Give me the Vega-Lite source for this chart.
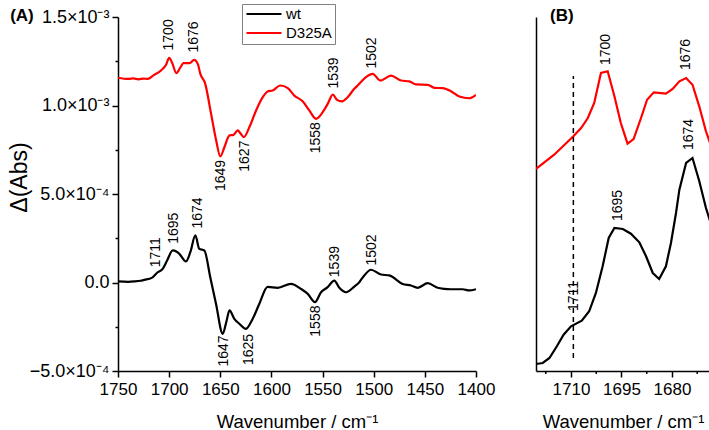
{
  "$schema": "https://vega.github.io/schema/vega-lite/v6.json",
  "padding": {"left": 8, "top": 3, "right": 0, "bottom": 0},
  "background": "white",
  "bounds": "flush",
  "spacing": 60,
  "config": {
    "view": {"stroke": null},
    "font": "Liberation Sans",
    "axis": {
      "domainColor": "black", "tickColor": "black", "labelColor": "black", "titleColor": "black",
      "domainWidth": 1.5, "tickWidth": 1.5, "grid": false,
      "labelFont": "Liberation Sans", "titleFont": "Liberation Sans",
      "labelFontSize": 17, "titleFontWeight": "normal",
      "labelFlush": false, "labelOverlap": false
    }
  },
  "resolve": {"scale": {"color": "independent"}, "legend": {"color": "independent"}},
  "datasets": {
    "specA": [
      {"wn": 1750, "abs": 1.157e-3, "sample": "D325A"},
      {"wn": 1740, "abs": 1.150e-3, "sample": "D325A"},
      {"wn": 1735, "abs": 1.153e-3, "sample": "D325A"},
      {"wn": 1730, "abs": 1.148e-3, "sample": "D325A"},
      {"wn": 1725, "abs": 1.152e-3, "sample": "D325A"},
      {"wn": 1721, "abs": 1.150e-3, "sample": "D325A"},
      {"wn": 1715, "abs": 1.172e-3, "sample": "D325A"},
      {"wn": 1708, "abs": 1.198e-3, "sample": "D325A"},
      {"wn": 1703, "abs": 1.230e-3, "sample": "D325A"},
      {"wn": 1700, "abs": 1.269e-3, "sample": "D325A"},
      {"wn": 1697, "abs": 1.240e-3, "sample": "D325A"},
      {"wn": 1693, "abs": 1.183e-3, "sample": "D325A"},
      {"wn": 1689, "abs": 1.215e-3, "sample": "D325A"},
      {"wn": 1686, "abs": 1.239e-3, "sample": "D325A"},
      {"wn": 1680, "abs": 1.239e-3, "sample": "D325A"},
      {"wn": 1675.5, "abs": 1.258e-3, "sample": "D325A"},
      {"wn": 1672, "abs": 1.235e-3, "sample": "D325A"},
      {"wn": 1669.5, "abs": 1.179e-3, "sample": "D325A"},
      {"wn": 1664.7, "abs": 1.122e-3, "sample": "D325A"},
      {"wn": 1659, "abs": 0.953e-3, "sample": "D325A"},
      {"wn": 1654, "abs": 0.802e-3, "sample": "D325A"},
      {"wn": 1650, "abs": 0.712e-3, "sample": "D325A"},
      {"wn": 1646, "abs": 0.764e-3, "sample": "D325A"},
      {"wn": 1641, "abs": 0.831e-3, "sample": "D325A"},
      {"wn": 1637, "abs": 0.834e-3, "sample": "D325A"},
      {"wn": 1633, "abs": 0.859e-3, "sample": "D325A"},
      {"wn": 1630, "abs": 0.840e-3, "sample": "D325A"},
      {"wn": 1627, "abs": 0.821e-3, "sample": "D325A"},
      {"wn": 1621.6, "abs": 0.877e-3, "sample": "D325A"},
      {"wn": 1615, "abs": 0.972e-3, "sample": "D325A"},
      {"wn": 1608.5, "abs": 1.047e-3, "sample": "D325A"},
      {"wn": 1603.7, "abs": 1.079e-3, "sample": "D325A"},
      {"wn": 1598.8, "abs": 1.085e-3, "sample": "D325A"},
      {"wn": 1591.3, "abs": 1.113e-3, "sample": "D325A"},
      {"wn": 1584, "abs": 1.098e-3, "sample": "D325A"},
      {"wn": 1577.6, "abs": 1.056e-3, "sample": "D325A"},
      {"wn": 1569.5, "abs": 1.024e-3, "sample": "D325A"},
      {"wn": 1563, "abs": 0.972e-3, "sample": "D325A"},
      {"wn": 1556.4, "abs": 0.925e-3, "sample": "D325A"},
      {"wn": 1549.9, "abs": 0.962e-3, "sample": "D325A"},
      {"wn": 1545, "abs": 1.009e-3, "sample": "D325A"},
      {"wn": 1540, "abs": 1.062e-3, "sample": "D325A"},
      {"wn": 1535.9, "abs": 1.032e-3, "sample": "D325A"},
      {"wn": 1531, "abs": 1.023e-3, "sample": "D325A"},
      {"wn": 1525.5, "abs": 1.047e-3, "sample": "D325A"},
      {"wn": 1519, "abs": 1.094e-3, "sample": "D325A"},
      {"wn": 1515.7, "abs": 1.113e-3, "sample": "D325A"},
      {"wn": 1507.6, "abs": 1.160e-3, "sample": "D325A"},
      {"wn": 1501, "abs": 1.179e-3, "sample": "D325A"},
      {"wn": 1493.6, "abs": 1.141e-3, "sample": "D325A"},
      {"wn": 1483.1, "abs": 1.169e-3, "sample": "D325A"},
      {"wn": 1473.3, "abs": 1.141e-3, "sample": "D325A"},
      {"wn": 1465.2, "abs": 1.136e-3, "sample": "D325A"},
      {"wn": 1458.7, "abs": 1.119e-3, "sample": "D325A"},
      {"wn": 1447.2, "abs": 1.117e-3, "sample": "D325A"},
      {"wn": 1440.7, "abs": 1.100e-3, "sample": "D325A"},
      {"wn": 1432.6, "abs": 1.098e-3, "sample": "D325A"},
      {"wn": 1424.5, "abs": 1.081e-3, "sample": "D325A"},
      {"wn": 1416.3, "abs": 1.051e-3, "sample": "D325A"},
      {"wn": 1406.6, "abs": 1.041e-3, "sample": "D325A"},
      {"wn": 1400, "abs": 1.060e-3, "sample": "D325A"},
      {"wn": 1750, "abs": 0.006e-3, "sample": "wt"},
      {"wn": 1740, "abs": 0.004e-3, "sample": "wt"},
      {"wn": 1734, "abs": 0.006e-3, "sample": "wt"},
      {"wn": 1728, "abs": 0.010e-3, "sample": "wt"},
      {"wn": 1724.3, "abs": 0.015e-3, "sample": "wt"},
      {"wn": 1717, "abs": 0.026e-3, "sample": "wt"},
      {"wn": 1711.2, "abs": 0.058e-3, "sample": "wt"},
      {"wn": 1706.3, "abs": 0.077e-3, "sample": "wt"},
      {"wn": 1702, "abs": 0.124e-3, "sample": "wt"},
      {"wn": 1696.5, "abs": 0.181e-3, "sample": "wt"},
      {"wn": 1693, "abs": 0.175e-3, "sample": "wt"},
      {"wn": 1690, "abs": 0.162e-3, "sample": "wt"},
      {"wn": 1683.5, "abs": 0.119e-3, "sample": "wt"},
      {"wn": 1679.3, "abs": 0.171e-3, "sample": "wt"},
      {"wn": 1674.4, "abs": 0.266e-3, "sample": "wt"},
      {"wn": 1670.5, "abs": 0.190e-3, "sample": "wt"},
      {"wn": 1665.6, "abs": 0.181e-3, "sample": "wt"},
      {"wn": 1659.8, "abs": 0.030e-3, "sample": "wt"},
      {"wn": 1654.2, "abs": -0.120e-3, "sample": "wt"},
      {"wn": 1647.6, "abs": -0.290e-3, "sample": "wt"},
      {"wn": 1644, "abs": -0.220e-3, "sample": "wt"},
      {"wn": 1641, "abs": -0.158e-3, "sample": "wt"},
      {"wn": 1636.3, "abs": -0.205e-3, "sample": "wt"},
      {"wn": 1631.4, "abs": -0.233e-3, "sample": "wt"},
      {"wn": 1625, "abs": -0.262e-3, "sample": "wt"},
      {"wn": 1618.3, "abs": -0.205e-3, "sample": "wt"},
      {"wn": 1611.8, "abs": -0.120e-3, "sample": "wt"},
      {"wn": 1603.7, "abs": -0.025e-3, "sample": "wt"},
      {"wn": 1593.9, "abs": -0.030e-3, "sample": "wt"},
      {"wn": 1580.9, "abs": -0.008e-3, "sample": "wt"},
      {"wn": 1571.1, "abs": -0.036e-3, "sample": "wt"},
      {"wn": 1564.5, "abs": -0.064e-3, "sample": "wt"},
      {"wn": 1557.4, "abs": -0.111e-3, "sample": "wt"},
      {"wn": 1551.5, "abs": -0.055e-3, "sample": "wt"},
      {"wn": 1545, "abs": -0.026e-3, "sample": "wt"},
      {"wn": 1538.5, "abs": 0.011e-3, "sample": "wt"},
      {"wn": 1533.6, "abs": -0.030e-3, "sample": "wt"},
      {"wn": 1527.1, "abs": -0.055e-3, "sample": "wt"},
      {"wn": 1519, "abs": -0.023e-3, "sample": "wt"},
      {"wn": 1514.1, "abs": 0.002e-3, "sample": "wt"},
      {"wn": 1509.2, "abs": 0.040e-3, "sample": "wt"},
      {"wn": 1502.7, "abs": 0.072e-3, "sample": "wt"},
      {"wn": 1492.9, "abs": 0.045e-3, "sample": "wt"},
      {"wn": 1484.8, "abs": 0.040e-3, "sample": "wt"},
      {"wn": 1471.7, "abs": -0.008e-3, "sample": "wt"},
      {"wn": 1463.6, "abs": -0.017e-3, "sample": "wt"},
      {"wn": 1457, "abs": -0.030e-3, "sample": "wt"},
      {"wn": 1447.2, "abs": -0.004e-3, "sample": "wt"},
      {"wn": 1437.5, "abs": -0.030e-3, "sample": "wt"},
      {"wn": 1431, "abs": -0.036e-3, "sample": "wt"},
      {"wn": 1424.5, "abs": -0.038e-3, "sample": "wt"},
      {"wn": 1413, "abs": -0.038e-3, "sample": "wt"},
      {"wn": 1406.6, "abs": -0.045e-3, "sample": "wt"},
      {"wn": 1400, "abs": -0.038e-3, "sample": "wt"}
    ],
    "labA": [
      {"wn": 1700.1, "abs": 1.311e-3, "label": "1700", "pos": "above"},
      {"wn": 1675.7, "abs": 1.299e-3, "label": "1676", "pos": "above"},
      {"wn": 1649.3, "abs": 0.693e-3, "label": "1649", "pos": "below"},
      {"wn": 1625.6, "abs": 0.802e-3, "label": "1627", "pos": "below"},
      {"wn": 1556.4, "abs": 0.906e-3, "label": "1558", "pos": "below"},
      {"wn": 1538.5, "abs": 1.096e-3, "label": "1539", "pos": "above"},
      {"wn": 1502.0, "abs": 1.209e-3, "label": "1502", "pos": "above"},
      {"wn": 1712.9, "abs": 0.086e-3, "label": "1711", "pos": "above"},
      {"wn": 1695.0, "abs": 0.219e-3, "label": "1695", "pos": "above"},
      {"wn": 1672.1, "abs": 0.305e-3, "label": "1674", "pos": "above"},
      {"wn": 1646.7, "abs": -0.299e-3, "label": "1647", "pos": "below"},
      {"wn": 1621.6, "abs": -0.290e-3, "label": "1625", "pos": "below"},
      {"wn": 1556.4, "abs": -0.130e-3, "label": "1558", "pos": "below"},
      {"wn": 1537.6, "abs": 0.030e-3, "label": "1539", "pos": "above"},
      {"wn": 1502.0, "abs": 0.096e-3, "label": "1502", "pos": "above"}
    ],
    "tagA": [
      {"wn": 1843.9, "abs": 1.508e-3, "tag": "(A)"}
    ],
    "specB": [
      {"wn": 1720.4, "v": 2.02, "sample": "D325A"},
      {"wn": 1715.0, "v": 2.163, "sample": "D325A"},
      {"wn": 1709.3, "v": 2.347, "sample": "D325A"},
      {"wn": 1707.0, "v": 2.43, "sample": "D325A"},
      {"wn": 1705.0, "v": 2.53, "sample": "D325A"},
      {"wn": 1703.1, "v": 2.68, "sample": "D325A"},
      {"wn": 1701.1, "v": 2.98, "sample": "D325A"},
      {"wn": 1699.1, "v": 2.997, "sample": "D325A"},
      {"wn": 1697.1, "v": 2.747, "sample": "D325A"},
      {"wn": 1695.2, "v": 2.48, "sample": "D325A"},
      {"wn": 1693.2, "v": 2.273, "sample": "D325A"},
      {"wn": 1691.4, "v": 2.32, "sample": "D325A"},
      {"wn": 1689.2, "v": 2.53, "sample": "D325A"},
      {"wn": 1687.4, "v": 2.713, "sample": "D325A"},
      {"wn": 1685.4, "v": 2.787, "sample": "D325A"},
      {"wn": 1681.8, "v": 2.773, "sample": "D325A"},
      {"wn": 1679.8, "v": 2.82, "sample": "D325A"},
      {"wn": 1677.8, "v": 2.897, "sample": "D325A"},
      {"wn": 1675.8, "v": 2.93, "sample": "D325A"},
      {"wn": 1673.9, "v": 2.863, "sample": "D325A"},
      {"wn": 1671.9, "v": 2.647, "sample": "D325A"},
      {"wn": 1669.9, "v": 2.397, "sample": "D325A"},
      {"wn": 1668.5, "v": 2.26, "sample": "D325A"},
      {"wn": 1720.4, "v": 0.07, "sample": "wt"},
      {"wn": 1718.4, "v": 0.08, "sample": "wt"},
      {"wn": 1716.4, "v": 0.13, "sample": "wt"},
      {"wn": 1714.2, "v": 0.247, "sample": "wt"},
      {"wn": 1712.2, "v": 0.363, "sample": "wt"},
      {"wn": 1710.0, "v": 0.447, "sample": "wt"},
      {"wn": 1706.8, "v": 0.503, "sample": "wt"},
      {"wn": 1704.6, "v": 0.597, "sample": "wt"},
      {"wn": 1702.6, "v": 0.78, "sample": "wt"},
      {"wn": 1700.6, "v": 1.047, "sample": "wt"},
      {"wn": 1698.8, "v": 1.33, "sample": "wt"},
      {"wn": 1697.1, "v": 1.43, "sample": "wt"},
      {"wn": 1694.6, "v": 1.42, "sample": "wt"},
      {"wn": 1692.2, "v": 1.373, "sample": "wt"},
      {"wn": 1689.7, "v": 1.287, "sample": "wt"},
      {"wn": 1687.7, "v": 1.147, "sample": "wt"},
      {"wn": 1685.7, "v": 0.98, "sample": "wt"},
      {"wn": 1683.8, "v": 0.92, "sample": "wt"},
      {"wn": 1681.8, "v": 1.047, "sample": "wt"},
      {"wn": 1680.3, "v": 1.28, "sample": "wt"},
      {"wn": 1678.8, "v": 1.58, "sample": "wt"},
      {"wn": 1677.8, "v": 1.813, "sample": "wt"},
      {"wn": 1675.8, "v": 2.08, "sample": "wt"},
      {"wn": 1673.9, "v": 2.13, "sample": "wt"},
      {"wn": 1671.9, "v": 1.90, "sample": "wt"},
      {"wn": 1669.9, "v": 1.63, "sample": "wt"},
      {"wn": 1668.5, "v": 1.48, "sample": "wt"}
    ],
    "labB": [
      {"wn": 1699.6, "v": 3.06, "label": "1700"},
      {"wn": 1675.8, "v": 3.01, "label": "1676"},
      {"wn": 1696.0, "v": 1.50, "label": "1695"},
      {"wn": 1675.0, "v": 2.21, "label": "1674"},
      {"wn": 1709.0, "v": 0.60, "label": "1711"}
    ],
    "tagB": [
      {"wn": 1712.7, "v": 3.55, "tag": "(B)"}
    ],
    "minorB": [
      {"wn": 1717.5, "v": 0},
      {"wn": 1702.5, "v": 0},
      {"wn": 1687.5, "v": 0},
      {"wn": 1672.5, "v": 0}
    ],
    "ruleB": [
      {"wn": 1709.3, "v1": 0.13, "v2": 2.95}
    ]
  },
  "hconcat": [
    {
      "width": 358,
      "height": 354,
      "layer": [
        {
          "data": {"name": "specA"},
          "mark": {"type": "line", "strokeWidth": 2.2, "interpolate": "monotone", "clip": true},
          "encoding": {
            "x": {
              "field": "wn", "type": "quantitative",
              "scale": {"domain": [1400, 1750], "reverse": true, "nice": false, "zero": false},
              "axis": {
                "values": [1400, 1425, 1450, 1475, 1500, 1525, 1550, 1575, 1600, 1625, 1650, 1675, 1700, 1725, 1750],
                "labelExpr": "datum.value % 50 === 0 ? format(datum.value, 'd') : ''",
                "tickSize": {"condition": {"test": "datum.value % 50 !== 0", "value": 3}, "value": 6},
                "labelPadding": 4,
                "title": "Wavenumber / cm⁻¹",
                "titleFontSize": 18.5,
                "titlePadding": 15
              }
            },
            "y": {
              "field": "abs", "type": "quantitative",
              "scale": {"domain": [-0.0005, 0.0015], "nice": false, "zero": false},
              "axis": {
                "values": [-0.0005, -0.00025, 0, 0.00025, 0.0005, 0.00075, 0.001, 0.00125, 0.0015],
                "labelExpr": "round(datum.value*4000) % 2 !== 0 ? '' : (datum.value === 0 ? '0.0' : (abs(datum.value) > 0.00099 ? format(datum.value*1000, '.1f') + '×10⁻³' : format(datum.value*10000, '.1f') + '×10⁻⁴'))",
                "tickSize": {"condition": {"test": "round(datum.value*4000) % 2 !== 0", "value": 3}, "value": 6},
                "labelPadding": 3,
                "labelFontSize": 18,
                "title": "Δ(Abs)",
                "titleFontSize": 23,
                "titlePadding": -2,
                "titleY": 160
              }
            },
            "color": {
              "field": "sample", "type": "nominal",
              "scale": {"domain": ["wt", "D325A"], "range": ["#000000", "#ff0000"]},
              "legend": {
                "title": null, "orient": "none", "legendX": 124, "legendY": -13,
                "symbolType": "stroke", "symbolSize": 1225, "symbolStrokeWidth": 2.2,
                "clipHeight": 14, "rowPadding": 4, "padding": 3,
                "labelFontSize": 15, "labelFont": "Liberation Sans", "labelColor": "black", "labelOffset": 3,
                "strokeColor": "#808080", "fillColor": "white"
              }
            }
          }
        },
        {
          "data": {"name": "labA"},
          "transform": [{"filter": "datum.pos === 'above'"}],
          "mark": {"type": "text", "angle": 270, "align": "left", "baseline": "middle", "fontSize": 14, "font": "Liberation Sans", "color": "black"},
          "encoding": {
            "x": {"field": "wn", "type": "quantitative"},
            "y": {"field": "abs", "type": "quantitative"},
            "text": {"field": "label", "type": "nominal"}
          }
        },
        {
          "data": {"name": "labA"},
          "transform": [{"filter": "datum.pos === 'below'"}],
          "mark": {"type": "text", "angle": 270, "align": "right", "baseline": "middle", "fontSize": 14, "font": "Liberation Sans", "color": "black"},
          "encoding": {
            "x": {"field": "wn", "type": "quantitative"},
            "y": {"field": "abs", "type": "quantitative"},
            "text": {"field": "label", "type": "nominal"}
          }
        },
        {
          "data": {"name": "tagA"},
          "mark": {"type": "text", "align": "center", "baseline": "middle", "fontSize": 17, "fontWeight": "bold", "font": "Liberation Sans", "color": "black", "clip": false},
          "encoding": {
            "x": {"field": "wn", "type": "quantitative"},
            "y": {"field": "abs", "type": "quantitative"},
            "text": {"field": "tag", "type": "nominal"}
          }
        }
      ]
    },
    {
      "width": 174,
      "height": 354,
      "layer": [
        {
          "data": {"name": "specB"},
          "mark": {"type": "line", "strokeWidth": 2.2, "clip": true},
          "encoding": {
            "x": {
              "field": "wn", "type": "quantitative",
              "scale": {"domain": [1668.7, 1720.4], "reverse": true, "nice": false, "zero": false},
              "axis": {
                "values": [1680, 1695, 1710],
                "format": "d",
                "tickSize": 6,
                "labelPadding": 4,
                "labelOverlap": false,
                "title": "Wavenumber / cm⁻¹",
                "titleFontSize": 18.5,
                "titlePadding": 15
              }
            },
            "y": {
              "field": "v", "type": "quantitative",
              "scale": {"domain": [0, 3.54], "nice": false, "zero": false},
              "axis": {"title": null, "labels": false, "ticks": false, "domain": true}
            },
            "color": {
              "field": "sample", "type": "nominal",
              "scale": {"domain": ["wt", "D325A"], "range": ["#000000", "#ff0000"]},
              "legend": null
            }
          }
        },
        {
          "data": {"name": "minorB"},
          "mark": {"type": "tick", "orient": "vertical", "size": 3, "thickness": 1.5, "color": "black", "yOffset": 1.5, "clip": false, "opacity": 1},
          "encoding": {
            "x": {"field": "wn", "type": "quantitative"},
            "y": {"field": "v", "type": "quantitative"}
          }
        },
        {
          "data": {"name": "ruleB"},
          "mark": {"type": "rule", "strokeDash": [5, 4], "strokeWidth": 1.5, "color": "black"},
          "encoding": {
            "x": {"field": "wn", "type": "quantitative"},
            "y": {"field": "v1", "type": "quantitative"},
            "y2": {"field": "v2"}
          }
        },
        {
          "data": {"name": "labB"},
          "mark": {"type": "text", "angle": 270, "align": "left", "baseline": "middle", "fontSize": 14, "font": "Liberation Sans", "color": "black"},
          "encoding": {
            "x": {"field": "wn", "type": "quantitative"},
            "y": {"field": "v", "type": "quantitative"},
            "text": {"field": "label", "type": "nominal"}
          }
        },
        {
          "data": {"name": "tagB"},
          "mark": {"type": "text", "align": "center", "baseline": "middle", "fontSize": 17, "fontWeight": "bold", "font": "Liberation Sans", "color": "black", "clip": false},
          "encoding": {
            "x": {"field": "wn", "type": "quantitative"},
            "y": {"field": "v", "type": "quantitative"},
            "text": {"field": "tag", "type": "nominal"}
          }
        }
      ]
    }
  ]
}
